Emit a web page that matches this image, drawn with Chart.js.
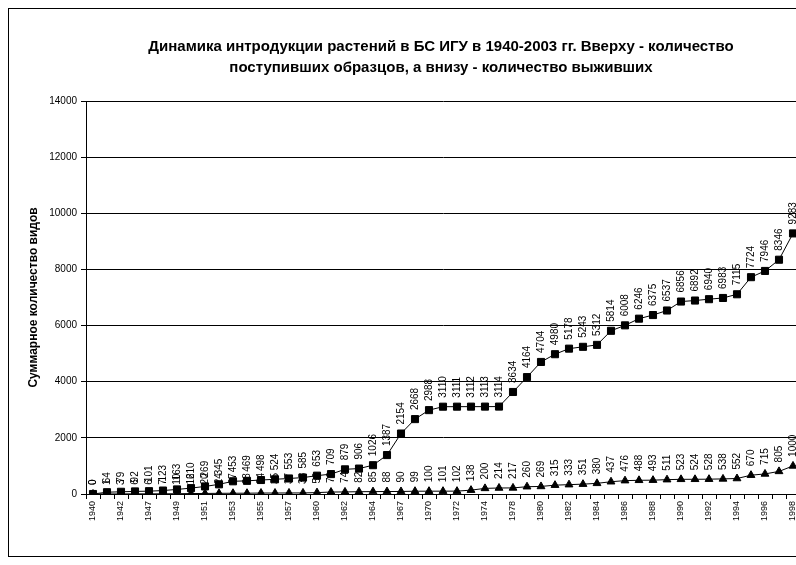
<!DOCTYPE html>
<html><head><meta charset="utf-8">
<script src="https://cdn.jsdelivr.net/npm/chart.js@4/dist/chart.umd.min.js"></script>
<style>
html,body{margin:0;padding:0;background:#fff;overflow:hidden;width:796px;height:565px}
#wrap{position:absolute;left:0;top:0;width:882px;height:565px}
</style></head>
<body><div id="wrap"><canvas id="c" width="882" height="565"></canvas></div>
<script>
const years = ['1940','1941','1942','1946','1947','1948','1949','1950','1951','1952','1953','1954','1955','1956','1957','1959','1960','1961','1962','1963','1964','1966','1967','1969','1970','1971','1972','1973','1974','1976','1978','1979','1980','1981','1982','1983','1984','1985','1986','1987','1988','1989','1990','1991','1992','1993','1994','1995','1996','1997','1998'];
const received = [0,64,79,92,101,123,163,210,269,345,453,469,498,524,553,585,653,709,879,906,1026,1387,2154,2668,2988,3110,3111,3112,3113,3114,3634,4164,4704,4980,5178,5243,5312,5814,6008,6246,6375,6537,6856,6892,6940,6983,7115,7724,7946,8346,9283];
const survived = [0,1,3,6,6,7,10,16,20,24,27,28,34,35,37,38,50,70,74,82,85,88,90,99,100,101,102,138,200,214,217,260,269,315,333,351,380,437,476,488,493,511,523,524,528,538,552,670,715,805,1000];
const yMin = 0, yMax = 14000, yStep = 2000;
const titleLines = ['Динамика интродукции растений в БС ИГУ в 1940-2003 гг. Вверху - количество','поступивших образцов, а внизу - количество выживших'];
const yTitle = 'Суммарное количество видов';

const FAM = '"Liberation Sans", Arial, sans-serif';

const frame = {
  id:'frame',
  beforeDraw(chart){
    const ctx = chart.ctx;
    ctx.save();
    ctx.fillStyle='#fff';
    ctx.fillRect(0,0,chart.width,chart.height);
    ctx.strokeStyle='#000';
    ctx.lineWidth=1;
    ctx.strokeRect(8.5,8.5,chart.width-17,chart.height-17);
    ctx.restore();
  }
};
const valueLabels = {
  id:'valueLabels',
  afterDatasetDraw(chart, args){
    const ds = chart.data.datasets[args.index];
    const ctx = chart.ctx;
    ctx.save();
    ctx.font = '10px ' + FAM;
    ctx.fillStyle = '#000';
    ctx.textAlign = 'left';
    ctx.textBaseline = 'middle';
    args.meta.data.forEach((pt,i)=>{
      ctx.save();
      ctx.translate(pt.x, pt.y - 9);
      ctx.rotate(-Math.PI/2);
      ctx.fillText(String(ds.data[i]),0,0);
      ctx.restore();
    });
    ctx.restore();
  }
};

new Chart(document.getElementById('c'),{
  type:'line',
  data:{
    labels: years,
    datasets:[
      {label:'Поступило', data: received, borderColor:'#000', borderWidth:1, backgroundColor:'#000',
       pointStyle:'rect', pointRadius:5, pointBorderWidth:1, pointBackgroundColor:'#000', pointBorderColor:'#000', tension:0},
      {label:'Выжило', data: survived, borderColor:'#000', borderWidth:1, backgroundColor:'#000',
       pointStyle:'triangle', pointRadius:4.5, pointBorderWidth:1, pointBackgroundColor:'#000', pointBorderColor:'#000', tension:0}
    ]
  },
  options:{
    responsive:false, animation:false, devicePixelRatio:1,
    layout:{padding:{left:0,right:0,top:0,bottom:0}},
    plugins:{
      legend:{display:false},
      tooltip:{enabled:false},
      title:{display:true, text:titleLines, color:'#000', font:{family:FAM, size:15, weight:'bold', lineHeight:1.4}, padding:{top:36.5,bottom:22.5}}
    },
    scales:{
      x:{type:'category', offset:true,
        grid:{display:true, drawOnChartArea:false, drawTicks:true, tickLength:5, offset:true, color:'#000'},
        border:{display:true, color:'#000'},
        ticks:{autoSkip:false, maxRotation:90, minRotation:90, color:'#000', padding:2, font:{family:FAM, size:9},
          callback(v,i){ return i%2===0 ? years[i] : ''; }},
        afterFit(s){ s.height = 565-494; }
      },
      y:{min:yMin, max:yMax,
        ticks:{stepSize:yStep, color:'#000', padding:4, font:{family:FAM, size:10}, callback(v){ return String(v); }},
        grid:{color:'#000', tickLength:5, drawTicks:true},
        border:{color:'#000'},
        title:{display:true, text:yTitle, color:'#000', font:{family:FAM, size:12, weight:'bold'}, padding:{top:26,bottom:0}},
        afterFit(s){ s.width = 86; }
      },
      pad:{type:'linear', position:'right', display:true,
        grid:{display:false, drawTicks:false}, border:{display:false}, ticks:{display:false},
        afterFit(s){ s.width = 82; }
      }
    }
  },
  plugins:[frame, valueLabels]
});
</script>
</body></html>
